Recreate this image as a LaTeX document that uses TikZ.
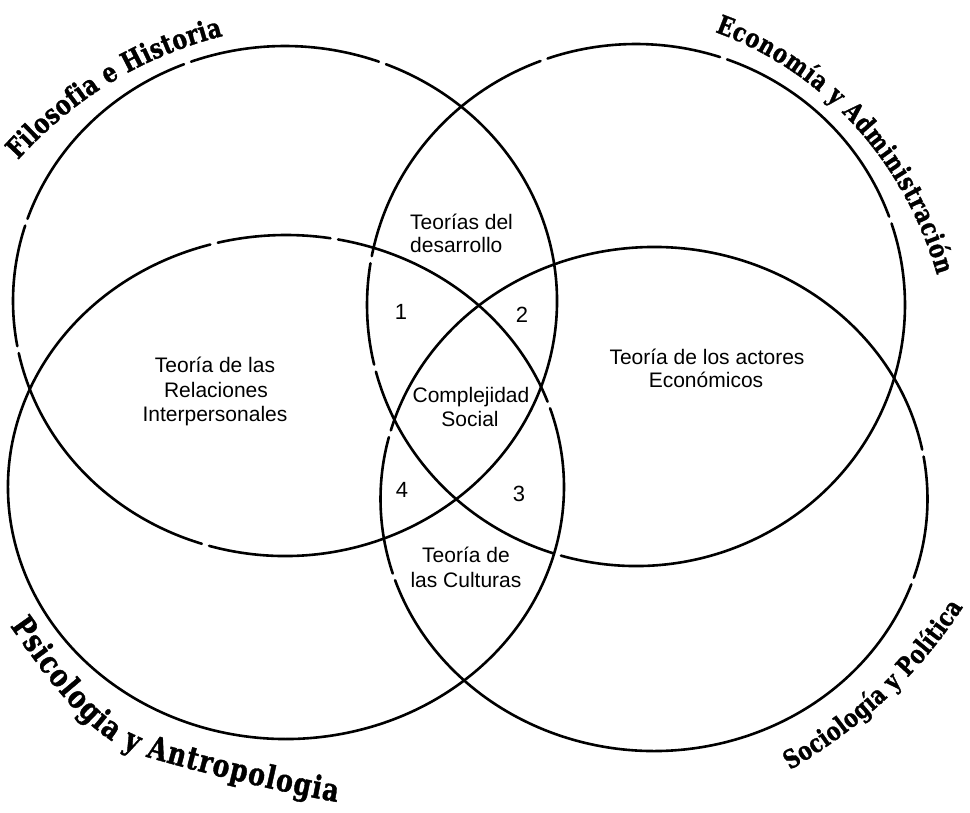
\documentclass[tikz,border=0pt]{standalone}
\usepackage{fontspec}
\setmainfont{Liberation Sans}
\newfontfamily\labfam{DejaVu Serif}[FakeStretch=0.8, BoldFeatures={FakeBold=1.2}]
\usetikzlibrary{decorations.text}
\newcommand\labA{\labfam\bfseries\fontsize{27.5}{30}\selectfont}
\newcommand\labB{\labfam\bfseries\fontsize{26.2}{30}\selectfont}
\newcommand\labC{\labfam\bfseries\fontsize{31.5}{34}\selectfont}
\newcommand\labD{\labfam\bfseries\fontsize{25.6}{30}\selectfont}
\begin{document}
\begin{tikzpicture}[x=1pt,y=1pt,
  ring/.style={line width=2.6pt, line cap=round},
  inner/.style={font=\fontsize{21}{24}\selectfont, inner sep=0pt},
  num/.style={font=\fontsize{22}{24}\selectfont, inner sep=0pt},
  curved/.style={decorate, decoration={text along path, text align=fit to path, text={#1}}}]
\useasboundingbox (0,0) rectangle (970,812);
\fill[white] (0,0) rectangle (970,812);

\coordinate (cTL) at (285,511);
\coordinate (cTR) at (636,507);
\coordinate (cBL) at (286,325);
\coordinate (cBR) at (654,313);

% top-left circle
\foreach \a/\b in {69.8/110.2, 111.8/161.2, 162.8/190.2, 191.8/252.2, 253.8/428.2}
  \draw[ring] (cTL) ++(\a:272 and 255) arc[start angle=\a, end angle=\b, x radius=272, y radius=255];
% top-right circle
\foreach \a/\b in {19.8/70.2, 71.8/109.2, 110.8/169.2, 170.8/193.2, 194.8/252.2, 253.8/378.2}
  \draw[ring] (cTR) ++(\a:269 and 261) arc[start angle=\a, end angle=\b, x radius=269, y radius=261];
% bottom-left circle
\foreach \a/\b in {19.8/79.2, 80.8/104.2, 105.8/378.2}
  \draw[ring] (cBL) ++(\a:278 and 252) arc[start angle=\a, end angle=\b, x radius=278, y radius=252];
% bottom-right circle
\foreach \a/\b in {11.3/164.2, 165.8/197.2, 198.8/340.2, 341.8/369.7}
  \draw[ring] (cBR) ++(\a:273.5 and 252) arc[start angle=\a, end angle=\b, x radius=273.5, y radius=252];

% curved titles
\path[curved={|\labA|Filosofia e Historia}]
  (18,652) .. controls (75,714.7) and (143.3,756) .. (223,776);
\path[curved={|\labB|Economía y Administración}]
  (715,780) .. controls (823.9,740.6) and (904.9,649.3) .. (937,537);
\path[curved={|\labC|Psicologia y Antropologia}]
  (10,186) .. controls (60,115) and (95,70) .. (147,55)
  .. controls (210,37) and (280,20) .. (337,10);
\path[curved={|\labD|Sociología y Política}]
  (790,42) .. controls (860,82.8) and (920,137.9) .. (963,205);

% inner labels
\node[inner, anchor=base west] (tdA) at (410,582) {Teorías del};
\node[inner, anchor=base west] (tdB) at (410,559) {desarrollo};
\node[num, anchor=base] (n1) at (401,492) {1};
\node[num, anchor=base] (n2) at (522,489) {2};
\node[inner, anchor=base] (csA) at (471,409) {Complejidad};
\node[inner, anchor=base] (csB) at (470,385) {Social};
\node[num, anchor=base] (n4) at (402,314) {4};
\node[num, anchor=base] (n3) at (519,310) {3};
\node[inner, anchor=base] (tcA) at (466,249) {Teoría de};
\node[inner, anchor=base] (tcB) at (466,224) {las Culturas};
\node[inner, anchor=base] (riA) at (215,439) {Teoría de las};
\node[inner, anchor=base] (riB) at (216,414) {Relaciones};
\node[inner, anchor=base] (riC) at (215,390) {Interpersonales};
\node[inner, anchor=base] (aeA) at (707,447) {Teoría de los actores};
\node[inner, anchor=base] (aeB) at (706,424) {Económicos};
\end{tikzpicture}
\end{document}
